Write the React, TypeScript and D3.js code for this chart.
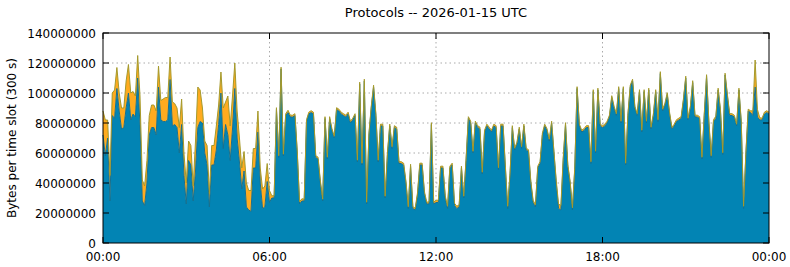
import React from 'react';
import * as d3 from 'd3';

const TITLE = 'Protocols -- 2026-01-15 UTC';
const Y_LABEL = 'Bytes per time slot (300 s)';
const X_TICK_LABELS = ['00:00', '06:00', '12:00', '18:00', '00:00'];
const Y_TICKS = [0, 20000000, 40000000, 60000000, 80000000, 100000000, 120000000, 140000000];

// Millions of bytes per 5-minute slot, 00:00 .. 24:00 (289 slots)
const blueM = [
  72, 58, 70, 28, 85, 83, 103, 88, 76, 77, 90, 100, 82, 86, 84, 110, 78, 28, 25, 40, 72, 77, 77, 72, 104,
  82, 81, 81, 82, 109, 78, 79, 77, 60, 79, 45, 26, 55, 52, 28, 48, 77, 81, 80, 60, 52, 24, 52, 52,
  62, 79, 100, 63, 79, 72, 55, 76, 103, 70, 54, 36, 48, 24, 22, 21, 50, 50, 74, 40, 23, 24, 41, 27,
  30, 30, 89, 57, 116, 58, 85, 87, 84, 84, 85, 60, 26, 28, 28, 81, 86, 87, 86, 57, 56, 40, 28, 83,
  56, 83, 75, 70, 89, 88, 86, 85, 84, 86, 80, 82, 85, 54, 106, 52, 108, 26, 72, 90, 104, 85, 54, 78,
  78, 30, 59, 78, 63, 77, 76, 53, 53, 52, 40, 23, 51, 23, 22, 32, 52, 52, 33, 26, 26, 79, 26, 27,
  27, 50, 50, 30, 23, 50, 52, 25, 23, 24, 50, 30, 55, 83, 80, 60, 80, 77, 76, 46, 74, 78, 76, 74,
  78, 77, 49, 78, 78, 50, 23, 45, 77, 62, 66, 76, 63, 78, 62, 61, 40, 27, 24, 50, 53, 72, 78, 75,
  68, 80, 60, 40, 23, 22, 55, 79, 51, 40, 22, 49, 103, 78, 74, 75, 77, 77, 53, 101, 60, 102, 78, 77,
  78, 80, 84, 97, 90, 85, 103, 80, 103, 52, 85, 104, 108, 90, 85, 101, 74, 101, 80, 102, 76, 85, 101, 81,
  113, 88, 92, 99, 86, 76, 78, 81, 82, 83, 95, 110, 82, 90, 107, 84, 84, 83, 56, 85, 111, 80, 57, 81,
  83, 102, 88, 59, 112, 98, 85, 85, 84, 78, 102, 80, 23, 59, 88, 87, 85, 104, 84, 82, 82, 86, 87, 86,
];

const orangeM = [
  16, 24, 12, 17, 15, 19, 14, 12, 14, 13, 18, 19, 18, 15, 14, 15, 20, 14, 13, 15, 13, 15, 15, 16, 14,
  13, 15, 16, 15, 15, 16, 14, 13, 17, 17, 15, 14, 13, 13, 10, 20, 27, 21, 10, 8, 13, 9, 13, 13,
  16, 13, 14, 27, 15, 26, 23, 22, 17, 18, 16, 14, 13, 16, 13, 14, 13, 13, 14, 10, 13, 14, 12, 8,
  1.5, 1.5, 1.2, 1.2, 1.2, 1.2, 1.2, 1.5, 1.2, 1.2, 1.2, 1.2, 1.5, 1.5, 1.2, 1.2, 1.2, 1.2, 1.2, 1.2, 1.2, 1.5, 1.2, 1.2,
  1.2, 1.2, 1.2, 1.2, 1.2, 1.2, 1.2, 1.2, 1.2, 1.2, 1.2, 1.2, 1.2, 1.2, 1.2, 1.2, 1.2, 1.2, 1.2, 1.2, 1.2, 1.2, 1.2, 1.2,
  1.2, 1.2, 1.2, 1.2, 1.2, 1.2, 1.2, 1.2, 1.2, 1.2, 1.2, 1.2, 1.5, 1.2, 1.2, 1.5, 1.2, 1.2, 1.2, 1.2, 1.5, 1.2, 1.2, 1.5,
  1.5, 1.2, 1.2, 1.5, 1.5, 1.2, 1.2, 1.5, 1.5, 1.5, 1.2, 1.2, 1.2, 1.2, 1.2, 1.2, 1.2, 1.2, 1.2, 1.2, 1.2, 1.2, 1.2, 1.2,
  1.2, 1.2, 1.2, 1.2, 1.2, 1.2, 1.5, 1.2, 1.2, 1.2, 1.2, 1.2, 1.2, 1.2, 1.2, 1.2, 1.2, 1.5, 1.5, 1.2, 1.2, 1.2, 1.2, 1.2,
  1.2, 1.2, 1.2, 1.5, 3, 3, 1.5, 1.2, 1.2, 1.2, 1.5, 1.2, 1.2, 1.2, 1.2, 1.2, 1.2, 1.2, 1.2, 1.2, 1.2, 1.2, 1.2, 1.2,
  1.2, 1.2, 1.2, 1.2, 1.2, 1.2, 1.2, 1.2, 1.2, 1.2, 1.2, 1.2, 1.2, 1.2, 1.2, 1.2, 1.2, 1.2, 1.2, 1.2, 1.2, 1.2, 1.2, 1.2,
  1.2, 1.2, 1.2, 1.2, 1.2, 1.2, 1.2, 1.2, 1.2, 1.2, 1.2, 1.2, 1.2, 1.2, 1.2, 1.2, 1.2, 1.2, 1.2, 1.2, 1.2, 1.2, 1.2, 1.2,
  1.5, 1.2, 1.2, 1.2, 1.2, 1.2, 1.2, 1.2, 1.2, 1.2, 1.2, 1.2, 1.5, 1.2, 1.2, 1.2, 3, 18, 5, 1.5, 1.2, 1.2, 1.2, 1.2,
];

const W = 790;
const H = 267;
const X0 = 103, X1 = 769, Y0 = 33, Y1 = 243;
const FONT = 'DejaVu Sans, sans-serif';

export default function App() {
  const n = Math.min(blueM.length, orangeM.length);
  const rows = d3.range(n).map((i) => ({ i, blue: blueM[i] * 1e6, orange: orangeM[i] * 1e6 }));
  const x = d3.scaleLinear().domain([0, 288]).range([X0, X1]);
  const y = d3.scaleLinear().domain([0, 140000000]).range([Y1, Y0]);
  const stack = d3.stack<any>().keys(['blue', 'orange'])(rows);
  const area = d3
    .area<any>()
    .x((d) => x(d.data.i))
    .y0((d) => y(d[0]))
    .y1((d) => y(d[1]));
  const line = d3
    .line<any>()
    .x((d) => x(d.data.i))
    .y((d) => y(d[1]));
  const xTickPos = [0, 72, 144, 216, 288];
  const fills = ['#0284b4', '#ffab1f'];
  const strokes = ['#17708f', '#a59a2c'];

  return (
    <svg width={W} height={H} style={{ display: 'block', position: 'absolute', left: 0, top: 0 }}>
      <rect x={0} y={0} width={W} height={H} fill="#fff" />
      <text x={(X0 + X1) / 2} y={17} textAnchor="middle" fontFamily={FONT} fontSize={13} fill="#000">
        {TITLE}
      </text>
      {/* grid */}
      {Y_TICKS.slice(1, -1).map((t) => (
        <line key={'gy' + t} x1={X0} x2={X1} y1={y(t)} y2={y(t)} stroke="#aaa" strokeWidth={1} strokeDasharray="1.5,3" />
      ))}
      {xTickPos.slice(1, -1).map((t) => (
        <line key={'gx' + t} x1={x(t)} x2={x(t)} y1={Y0} y2={Y1} stroke="#aaa" strokeWidth={1} strokeDasharray="1.5,3" />
      ))}
      {/* areas */}
      {stack.map((s, k) => (
        <path key={'a' + k} d={area(s) || ''} fill={fills[k]} stroke="none" />
      ))}
      {stack.map((s, k) => (
        <path key={'l' + k} d={line(s) || ''} fill="none" stroke={strokes[k]} strokeWidth={1} />
      ))}
      {/* frame */}
      <rect x={X0} y={Y0} width={X1 - X0} height={Y1 - Y0} fill="none" stroke="#000" strokeWidth={1} />
      {Y_TICKS.map((t) => (
        <g key={'ty' + t}>
          <line x1={X0} x2={X0 + 6} y1={y(t)} y2={y(t)} stroke="#000" />
          <line x1={X1 - 6} x2={X1} y1={y(t)} y2={y(t)} stroke="#000" />
          <text x={X0 - 7} y={y(t) + 4.5} textAnchor="end" fontFamily={FONT} fontSize={12} fill="#000">
            {String(t)}
          </text>
        </g>
      ))}
      {xTickPos.map((t, k) => (
        <g key={'tx' + k}>
          <line x1={x(t)} x2={x(t)} y1={Y1} y2={Y1 - 6} stroke="#000" />
          <line x1={x(t)} x2={x(t)} y1={Y0} y2={Y0 + 6} stroke="#000" />
          <text x={x(t)} y={Y1 + 18} textAnchor="middle" fontFamily={FONT} fontSize={12} fill="#000">
            {X_TICK_LABELS[k]}
          </text>
        </g>
      ))}
      <text
        transform={`translate(16,${(Y0 + Y1) / 2}) rotate(-90)`}
        textAnchor="middle"
        fontFamily={FONT}
        fontSize={12}
        fill="#000"
      >
        {Y_LABEL}
      </text>
    </svg>
  );
}
